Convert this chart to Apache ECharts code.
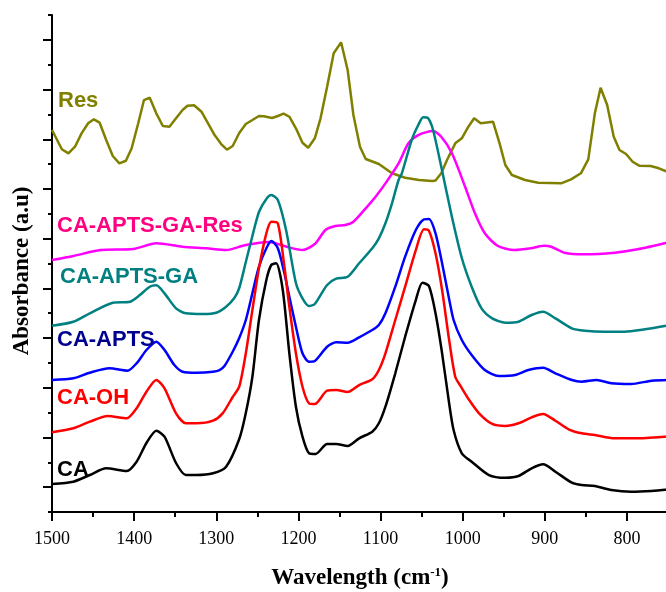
<!DOCTYPE html>
<html>
<head>
<meta charset="utf-8">
<script src="https://cdn.jsdelivr.net/npm/echarts@6/dist/echarts.min.js"></script>
<style>
html,body{margin:0;padding:0;overflow:hidden;background:#fff;}
#chart{width:712px;height:592px;}
</style>
</head>
<body>
<div id="chart"></div>
<script>
// x tick labels: 1500 ... 800 (wavenumber, cm-1), y: arbitrary absorbance units
const xTicks = [1500, 1400, 1300, 1200, 1100, 1000, 900, 800];

const caWn = [1500,1474,1454,1434,1409,1397,1385,1373,1363,1349,1337,1324,1304,1288,1272,1264,1256,1248,1239,1233,1227,1219,1211,1203,1195,1187,1179,1165,1154,1140,1126,1110,1102,1094,1082,1070,1057,1049,1041,1033,1025,1017,1011,1001,989,968,948,932,916,902,887,867,855,839,819,795,770,750];
const caAbs = [0.563,0.61,0.744,0.879,0.825,1.012,1.388,1.636,1.515,0.986,0.744,0.744,0.779,0.911,1.469,1.992,2.722,3.863,4.668,4.97,5.004,4.467,3.193,2.119,1.515,1.181,1.167,1.368,1.368,1.328,1.483,1.616,1.785,2.119,2.791,3.527,4.265,4.614,4.547,3.998,3.193,2.253,1.65,1.181,1.012,0.744,0.69,0.724,0.879,0.96,0.811,0.59,0.543,0.523,0.443,0.408,0.423,0.453];

const ohWn = [1500,1474,1454,1432,1409,1397,1385,1373,1363,1349,1337,1324,1304,1292,1280,1272,1264,1256,1248,1239,1233,1225,1217,1211,1203,1195,1187,1180,1165,1154,1140,1126,1110,1102,1094,1082,1070,1057,1047,1041,1033,1025,1017,1009,1002,992,980,964,948,932,916,902,887,871,855,839,815,786,750];
const ohAbs = [1.604,1.684,1.817,1.932,1.885,2.086,2.42,2.656,2.489,1.986,1.785,1.785,1.837,1.99,2.314,2.521,3.193,4.064,4.903,5.607,5.841,5.809,4.935,4.131,3.193,2.521,2.187,2.173,2.441,2.455,2.414,2.555,2.67,2.857,3.193,3.863,4.533,5.271,5.688,5.66,5.205,4.467,3.527,2.722,2.521,2.253,1.986,1.771,1.73,1.785,1.905,1.972,1.837,1.664,1.583,1.549,1.483,1.483,1.519];

const aptsWn = [1500,1474,1454,1430,1408,1397,1385,1373,1363,1351,1341,1324,1304,1296,1290,1280,1272,1264,1256,1248,1239,1233,1225,1217,1211,1203,1195,1187,1180,1165,1154,1140,1126,1110,1102,1094,1082,1070,1057,1047,1041,1033,1025,1017,1011,1001,989,973,956,936,920,902,887,867,855,837,819,795,770,750];
const aptsAbs = [2.656,2.69,2.803,2.891,2.843,2.992,3.259,3.426,3.259,2.958,2.823,2.803,2.823,2.857,2.938,3.225,3.501,3.863,4.4,4.935,5.306,5.453,5.306,4.803,4.332,3.728,3.193,3.024,3.038,3.326,3.414,3.406,3.515,3.662,3.762,3.998,4.533,5.137,5.674,5.889,5.895,5.607,5.004,4.332,3.863,3.461,3.159,2.857,2.736,2.756,2.857,2.903,2.791,2.656,2.622,2.656,2.589,2.575,2.642,2.656];

const gaWn = [1500,1474,1454,1426,1405,1393,1381,1373,1363,1349,1337,1316,1300,1288,1278,1272,1264,1256,1248,1239,1233,1225,1215,1203,1195,1187,1180,1165,1154,1140,1126,1110,1102,1094,1086,1078,1074,1062,1054,1048,1042,1036,1026,1013,1001,989,977,964,948,932,916,902,887,867,851,827,803,778,750];
const gaAbs = [3.748,3.829,3.998,4.211,4.231,4.366,4.533,4.561,4.4,4.098,3.998,3.984,4.01,4.131,4.306,4.507,5.03,5.553,6.036,6.298,6.378,6.277,5.674,4.607,4.3,4.145,4.185,4.567,4.694,4.734,5.004,5.306,5.507,5.809,6.211,6.68,6.815,7.485,7.786,7.941,7.921,7.686,6.947,5.935,5.11,4.533,4.098,3.897,3.809,3.829,3.964,4.03,3.897,3.696,3.648,3.628,3.628,3.676,3.752];

const gaResWn = [1500,1474,1441,1401,1373,1341,1312,1288,1264,1236,1211,1195,1180,1167,1155,1143,1133,1118,1106,1094,1078,1066,1054,1036,1026,1013,997,985,973,957,937,917,901,892,876,852,815,787,750];
const gaResAbs = [5.07,5.151,5.271,5.292,5.406,5.338,5.306,5.271,5.372,5.432,5.322,5.271,5.392,5.674,5.754,5.774,5.841,6.11,6.344,6.613,7.016,7.418,7.585,7.666,7.551,7.217,6.545,6.01,5.607,5.352,5.271,5.306,5.358,5.338,5.217,5.185,5.217,5.285,5.422];

const resWn = [1500,1488,1480,1472,1464,1456,1449,1442,1434,1426,1418,1410,1403,1395,1388,1381,1373,1365,1357,1349,1341,1335,1327,1318,1310,1302,1294,1287,1280,1272,1264,1256,1248,1242,1232,1225,1218,1211,1203,1195,1188,1180,1173,1165,1157,1148,1140,1133,1125,1118,1102,1086,1070,1053,1037,1033,1026,1019,1009,1001,993,986,978,963,955,948,940,924,908,880,868,856,847,839,832,824,816,809,801,793,785,771,761,750];
const resAbs = [7.686,7.298,7.217,7.35,7.619,7.821,7.901,7.833,7.485,7.163,7.016,7.068,7.318,7.821,8.289,8.336,8.022,7.766,7.752,7.921,8.088,8.175,8.183,8.054,7.821,7.585,7.404,7.29,7.364,7.625,7.807,7.887,7.968,7.961,7.927,7.968,8.014,7.953,7.72,7.43,7.33,7.519,7.921,8.557,9.229,9.45,8.893,7.988,7.35,7.102,7.002,6.815,6.726,6.68,6.66,6.67,6.815,7.082,7.418,7.519,7.752,7.921,7.821,7.853,7.418,6.982,6.78,6.68,6.626,6.613,6.694,6.815,7.096,8.022,8.537,8.189,7.551,7.283,7.203,7.048,6.968,6.962,6.915,6.841];

const seriesNames = ['Res', 'CA-APTS-GA-Res', 'CA-APTS-GA', 'CA-APTS', 'CA-OH', 'CA'];
const lineColors = ['#808000', '#ff00ff', '#008080', '#0000ff', '#ff0000', '#000000'];
const labelColors = ['#808000', '#ff0080', '#008080', '#000090', '#ff0000', '#000000'];

const zip = (a, b) => a.map((v, i) => [v, b[i]]);
const dataSets = [zip(resWn, resAbs), zip(gaResWn, gaResAbs), zip(gaWn, gaAbs), zip(aptsWn, aptsAbs), zip(ohWn, ohAbs), zip(caWn, caAbs)];
const labelPos = [[58, 102], [57, 227], [60, 278], [57, 341], [57, 399], [57, 471]];

const chart = echarts.init(document.getElementById('chart'), null, {renderer: 'canvas'});
chart.setOption({
  animation: false,
  grid: {left: 52, top: 15, bottom: 80, right: 1, containLabel: false},
  xAxis: {
    type: 'value', min: 700, max: 1500, interval: 100, inverse: true,
    axisLine: {show: true, onZero: false, lineStyle: {color: '#000', width: 2}},
    axisTick: {show: true, length: 9, lineStyle: {color: '#000', width: 2}},
    minorTick: {show: true, splitNumber: 2, length: 5, lineStyle: {color: '#000', width: 2}},
    splitLine: {show: false},
    axisLabel: {show: true, margin: 18, color: '#000', fontSize: 18, fontFamily: 'Liberation Serif',
      formatter: v => xTicks.indexOf(v) >= 0 ? String(v) : ''}
  },
  yAxis: {
    type: 'value', min: 0, max: 10, interval: 1,
    axisLine: {show: true, onZero: false, lineStyle: {color: '#000', width: 2}},
    axisTick: {show: true, length: 4, lineStyle: {color: '#000', width: 2}},
    minorTick: {show: true, splitNumber: 2, length: 9, lineStyle: {color: '#000', width: 2}},
    splitLine: {show: false},
    axisLabel: {show: false}
  },
  series: seriesNames.map((n, i) => ({
    name: n, type: 'line', data: dataSets[i], showSymbol: false,
    smooth: i === 0 ? false : 0.25,
    lineStyle: {color: lineColors[i], width: 2.5},
    itemStyle: {color: lineColors[i]},
    z: 2 + i
  })),
  graphic: seriesNames.map((n, i) => ({
    type: 'text', left: labelPos[i][0], top: labelPos[i][1] - 12, z: 100,
    style: {text: n, fill: labelColors[i], font: 'bold 22px "Liberation Sans", Arial, sans-serif'}
  })).concat([
    {type: 'text', x: 360, y: 578, z: 100,
     style: {text: '{a|Wavelength (cm}{s|-1}{a|)}', align: 'center', verticalAlign: 'middle',
       rich: {a: {font: 'bold 23px "Liberation Serif"', fill: '#000'},
              s: {font: 'bold 13px "Liberation Serif"', fill: '#000', verticalAlign: 'top', padding: [0,0,10,0]}}}},
    {type: 'text', x: 22, y: 271, rotation: Math.PI / 2, z: 100,
     style: {text: 'Absorbance (a.u)', align: 'center', verticalAlign: 'middle', fill: '#000',
       font: 'bold 23px "Liberation Serif"'}}
  ])
});
</script>
</body>
</html>
